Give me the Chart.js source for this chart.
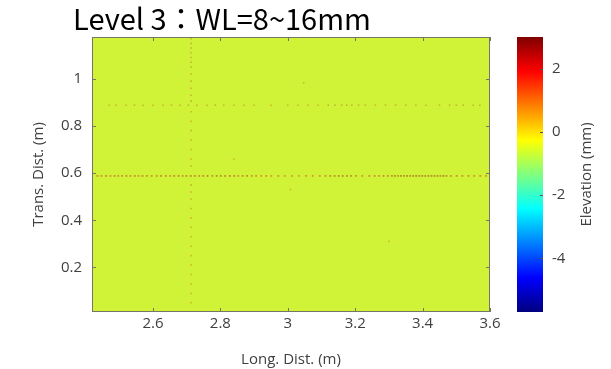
<!DOCTYPE html>
<html><head><meta charset="utf-8">
<script src="https://cdn.jsdelivr.net/npm/chart.js@4.4.1/dist/chart.umd.min.js"></script>
<style>
html,body{margin:0;padding:0;background:#fff;}
#wrap{position:relative;width:611px;height:369px;overflow:hidden;background:#fff;}
#title{position:absolute;left:0;top:0;width:444px;text-align:center;font-family:"Noto Sans CJK JP","Noto Sans CJK TC",sans-serif;font-size:29px;line-height:34px;color:#000;white-space:nowrap;}
#main{position:absolute;left:0;top:0;}
#cbar{position:absolute;left:500px;top:0;}
</style></head>
<body><div id="wrap">
<canvas id="main" width="611" height="369"></canvas>
<canvas id="cbar" width="111" height="369"></canvas>
<div id="title">Level 3：WL=8~16mm</div>
</div>
<script>
// ---- data ----
const xExtent = [2.419, 3.6];          // Long. Dist. (m) covered by the map
const yExtent = [0.011, 1.177];        // Trans. Dist. (m) covered by the map
const xTicks = [2.6, 2.8, 3, 3.2, 3.4, 3.6];
const yTicks = [0.2, 0.4, 0.6, 0.8, 1];
const cbarRange = [-5.7, 3];           // Elevation (mm)
const cbarTicks = [2, 0, -2, -4];
const fieldElevation = -0.6;           // background elevation of the surface (mm)

// ridge along Trans. Dist. ≈ 0.588 m : [Long. Dist., elevation]
const ridgeAY = 0.588;
const ridgeA = [[2.435,2.3],[2.447,2.0],[2.461,2.5],[2.474,2.1],[2.486,2.6],[2.497,2.0],[2.508,2.4],[2.521,2.7],[2.533,2.2],
 [2.546,2.5],[2.557,1.9],[2.569,2.6],[2.582,2.8],[2.596,2.3],[2.611,2.1],[2.624,2.6],[2.638,2.4],[2.651,2.0],[2.663,2.5],
 [2.676,2.8],[2.688,2.2],[2.699,2.6],[2.712,2.9],[2.724,2.4],[2.737,2.1],[2.749,2.7],[2.762,2.8],[2.776,2.3],[2.789,2.8],
 [2.801,2.9],[2.814,2.6],[2.828,2.8],[2.841,2.4],[2.853,2.2],[2.866,2.5],[2.879,2.8],[2.893,2.3],[2.906,2.0],[2.921,1.9],
 [2.936,2.1],[2.951,1.8],[2.972,1.9],[2.991,1.7],[3.012,1.8],[3.033,1.7],[3.054,1.9],[3.074,1.8],[3.095,2.0],[3.112,2.2],
 [3.126,2.6],[3.139,2.8],[3.151,2.9],[3.163,2.7],[3.176,2.9],[3.188,2.5],[3.202,2.1],[3.221,1.9],[3.242,2.2],[3.258,2.4],
 [3.271,2.1],[3.284,2.6],[3.297,2.3],[3.309,2.8],[3.318,2.9],[3.327,2.7],[3.336,3.0],[3.345,2.8],[3.354,3.0],[3.363,2.7],
 [3.372,2.9],[3.381,3.0],[3.390,2.8],[3.399,3.0],[3.408,2.7],[3.417,2.9],[3.426,3.0],[3.435,2.8],[3.444,3.0],[3.453,2.8],
 [3.462,3.0],[3.471,2.7],[3.484,2.4],[3.501,2.1],[3.518,2.5],[3.536,2.2],[3.553,2.0],[3.571,2.3],[3.588,2.1]];

// fainter ridge along Trans. Dist. ≈ 0.888 m : [Long. Dist., elevation]
const ridgeBY = 0.888;
const ridgeB = [[2.47,2.5],[2.49,2.7],[2.52,2.4],[2.545,2.6],[2.57,2.8],[2.60,2.5],[2.63,2.7],[2.655,2.4],[2.68,2.6],
 [2.705,2.9],[2.73,2.7],[2.76,2.5],[2.785,2.8],[2.81,2.6],[2.84,2.4],[2.87,2.7],[2.90,2.5],[2.95,2.4],[3.00,2.5],[3.03,2.6],
 [3.06,2.4],[3.09,2.7],[3.12,2.8],[3.14,3.0],[3.16,2.7],[3.175,2.9],[3.19,2.6],[3.21,2.5],[3.23,2.7],[3.26,2.4],[3.29,2.6],
 [3.32,2.5],[3.35,2.7],[3.38,2.4],[3.41,2.6],[3.45,2.5],[3.48,2.7],[3.50,2.6],[3.52,2.8],[3.55,2.5],[3.57,2.6]];

// faint ridge along Long. Dist. ≈ 2.713 m : [Trans. Dist., elevation]
const ridgeCX = 2.713;
const ridgeC = [[1.17,2.8],[1.15,2.6],[1.13,2.9],[1.11,2.5],[1.09,2.7],[1.07,2.6],[1.05,2.8],[1.02,2.5],[0.99,2.6],
 [0.96,2.4],[0.93,2.7],[0.905,2.9],[0.86,2.5],[0.82,2.4],[0.78,2.6],[0.74,2.4],[0.70,2.5],[0.66,2.4],[0.63,2.6],
 [0.55,2.7],[0.52,2.5],[0.49,2.4],[0.45,2.6],[0.41,2.4],[0.37,2.5],[0.33,2.4],[0.29,2.6],[0.25,2.4],[0.21,2.5],
 [0.17,2.4],[0.13,2.5],[0.09,2.4],[0.05,2.5]];

// isolated spots : [Long. Dist., Trans. Dist., elevation]
const spots = [[3.047,0.983,2.4],[3.008,0.53,2.4],[2.84,0.66,2.3],[3.30,0.31,2.3]];

// ---- colour map (jet) ----
function jetRGB(v){
  const t = (v - cbarRange[0]) / (cbarRange[1] - cbarRange[0]);
  const f = a => Math.max(0, Math.min(1, 1.5 - Math.abs(4 * t - a)));
  return [f(3), f(2), f(1)].map(c => Math.round(c * 255));
}
function jet(v, a){ const c = jetRGB(v); return a == null ? `rgb(${c})` : `rgba(${c},${a})`; }
function mapColour(v, a){ // jet, slightly softened as in the printed map
  const c = jetRGB(v).map(x => Math.round(x * 0.87 + 160 * 0.13));
  return a == null ? `rgb(${c})` : `rgba(${c},${a})`;
}

const FONT = '"Open Sans", sans-serif';
const TXT = '#404040';
const fmt = v => String(Number(Number(v).toFixed(2)));

const frame = {
  id: 'frame',
  afterDatasetsDraw(chart){
    const {ctx, chartArea: a, scales: {x, y}} = chart;
    ctx.save();
    ctx.strokeStyle = '#767666';
    ctx.lineWidth = 1;
    ctx.strokeRect(Math.round(a.left) + 0.5, Math.round(a.top) + 0.5, Math.round(a.right - a.left) - 1, Math.round(a.bottom - a.top) - 1);
    ctx.beginPath();
    xTicks.forEach(v => { const p = Math.round(x.getPixelForValue(v)) + 0.5;
      ctx.moveTo(p, a.bottom); ctx.lineTo(p, a.bottom - 4); ctx.moveTo(p, a.top); ctx.lineTo(p, a.top + 4); });
    yTicks.forEach(v => { const p = Math.round(y.getPixelForValue(v)) + 0.5;
      ctx.moveTo(a.left, p); ctx.lineTo(a.left + 4, p); ctx.moveTo(a.right, p); ctx.lineTo(a.right - 4, p); });
    ctx.stroke();
    ctx.restore();
  }
};

const dotStyle = (alpha, r) => ({ type: 'scatter', pointStyle: 'rect', pointRadius: r, pointBorderWidth: 0,
  pointBackgroundColor: c => mapColour(c.raw.v, alpha) });

new Chart(document.getElementById('main'), {
  type: 'scatter',
  data: { datasets: [
    { label: 'ridge 0.588 m', data: ridgeA.map(([x, v]) => ({x, y: ridgeAY, v})), ...dotStyle(0.42, 1.3), order: 0 },
    { label: 'ridge 0.888 m', data: ridgeB.map(([x, v]) => ({x, y: ridgeBY, v})), ...dotStyle(0.28, 1.1), order: 0 },
    { label: 'ridge 2.713 m', data: ridgeC.map(([y, v]) => ({x: ridgeCX, y, v})), ...dotStyle(0.28, 1.1), order: 0 },
    { label: 'spots', data: spots.map(([x, y, v]) => ({x, y, v})), ...dotStyle(0.28, 1.1), order: 0 },
    { type: 'line', label: 'field', data: [{x: xExtent[0], y: yExtent[1]}, {x: xExtent[1], y: yExtent[1]}],
      fill: 'start', backgroundColor: mapColour(fieldElevation), borderWidth: 0, pointRadius: 0, order: 1 }
  ]},
  options: {
    responsive: false, animation: false, devicePixelRatio: 1,
    layout: { padding: { top: 37, right: 121, left: 0, bottom: 0 } },
    plugins: { legend: { display: false }, tooltip: { enabled: false } },
    scales: {
      x: { type: 'linear', min: xExtent[0], max: xExtent[1],
        afterBuildTicks: s => { s.ticks = xTicks.map(value => ({value})); },
        afterFit: s => { s.height = 57; },
        grid: { display: false, drawTicks: false }, border: { display: false },
        ticks: { callback: fmt, color: TXT, font: { family: FONT, size: 15 }, padding: 3, maxRotation: 0, autoSkip: false },
        title: { display: true, text: 'Long. Dist. (m)', color: TXT, font: { family: FONT, size: 15 }, padding: { top: 0, bottom: 0 } } },
      y: { type: 'linear', min: yExtent[0], max: yExtent[1],
        afterBuildTicks: s => { s.ticks = yTicks.map(value => ({value})); },
        afterFit: s => { s.width = 92; },
        grid: { display: false, drawTicks: false }, border: { display: false },
        ticks: { callback: fmt, color: TXT, font: { family: FONT, size: 15 }, padding: 10, autoSkip: false },
        title: { display: true, text: 'Trans. Dist. (m)', color: TXT, font: { family: FONT, size: 15 }, padding: { top: 30, bottom: 0 } } }
    }
  },
  plugins: [frame]
});

// ---- colour bar ----
const cbarDeco = {
  id: 'cbarDeco',
  afterDatasetsDraw(chart){
    const {ctx, chartArea: a, scales: {y}} = chart;
    ctx.save();
    ctx.strokeStyle = '#555';
    ctx.lineWidth = 1;
    ctx.beginPath();
    cbarTicks.forEach(v => { const p = Math.round(y.getPixelForValue(v)) + 0.5; ctx.moveTo(a.right, p); ctx.lineTo(a.right - 3, p); });
    ctx.stroke();
    ctx.translate(y.right - 24, (a.top + a.bottom) / 2);
    ctx.rotate(-Math.PI / 2);
    ctx.fillStyle = TXT;
    ctx.font = '15px ' + FONT;
    ctx.textAlign = 'center';
    ctx.textBaseline = 'middle';
    ctx.fillText('Elevation (mm)', 0, 0);
    ctx.restore();
  }
};

new Chart(document.getElementById('cbar'), {
  type: 'bar',
  data: { labels: ['Elevation'], datasets: [{
    data: [cbarRange],
    barPercentage: 1, categoryPercentage: 1, borderWidth: 0,
    backgroundColor: c => {
      const a = c.chart.chartArea; if (!a) return jet(0);
      const g = c.chart.ctx.createLinearGradient(0, a.bottom, 0, a.top);
      [0, 0.125, 0.375, 0.625, 0.875, 1].forEach(t => g.addColorStop(t, jet(cbarRange[0] + t * (cbarRange[1] - cbarRange[0]))));
      return g;
    }
  }]},
  options: {
    responsive: false, animation: false, devicePixelRatio: 1,
    layout: { padding: { top: 37, bottom: 57, left: 17, right: 0 } },
    plugins: { legend: { display: false }, tooltip: { enabled: false } },
    scales: {
      x: { display: false },
      y: { position: 'right', min: cbarRange[0], max: cbarRange[1],
        afterBuildTicks: s => { s.ticks = cbarTicks.map(value => ({value})); },
        afterFit: s => { s.width = 68; },
        grid: { display: false, drawTicks: false }, border: { display: false },
        ticks: { callback: fmt, color: TXT, font: { family: FONT, size: 15 }, padding: 9, autoSkip: false } }
    }
  },
  plugins: [cbarDeco]
});
</script>
</body></html>
